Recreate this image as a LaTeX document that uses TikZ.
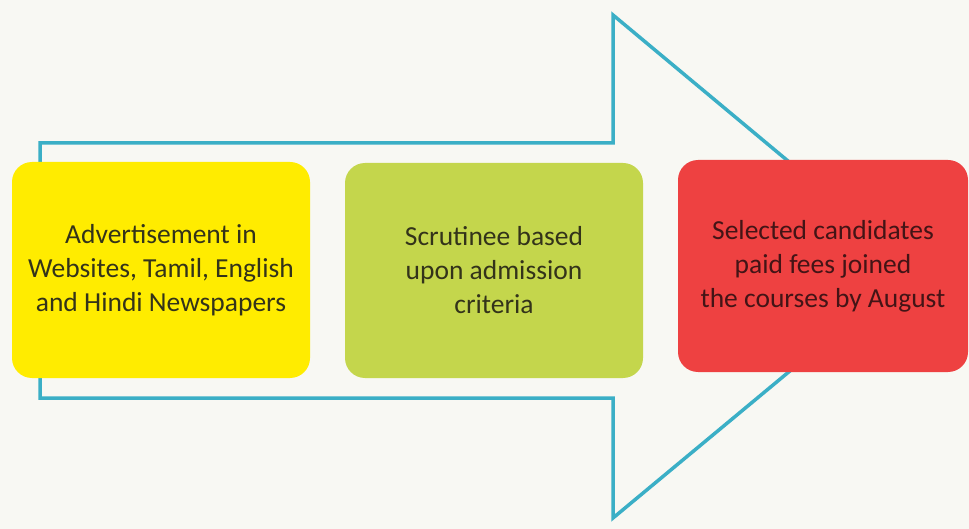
\documentclass[tikz,border=0pt]{standalone}
\usepackage{fontspec}
\setmainfont{Carlito}
\definecolor{bgc}{HTML}{F8F8F3}
\definecolor{teal}{HTML}{3BAFC6}
\definecolor{yel}{HTML}{FFEC00}
\definecolor{grn}{HTML}{C4D64C}
\definecolor{rd}{HTML}{EE4141}
\definecolor{txtdark}{HTML}{33331A}
\definecolor{txtred}{HTML}{431416}
\tikzset{
  stagebox/.style={rounded corners=20pt, minimum width=298pt, minimum height=216pt,
    inner sep=0pt, align=center, font=\fontsize{27.5}{34}\selectfont, text=txtdark},
  flowarrow/.style={draw=teal, line width=3.5pt, line join=miter}
}
\begin{document}
\begin{tikzpicture}[x=1pt,y=-1pt]
\useasboundingbox (0,0) rectangle (969,529);
\fill[bgc] (0,0) rectangle (969,529);
\draw[flowarrow] (40,143) -- (613,143) -- (613,15) -- (915,267) -- (613,518) -- (613,398) -- (40,398) -- cycle;
\node[stagebox, fill=yel] (adv) at (161,270) {Advertisement in\\Websites, Tamil, English\\and Hindi Newspapers};
\node[stagebox, fill=grn, minimum height=215pt] (scr) at (494,270.5) {Scrutinee based\\upon admission\\criteria};
\node[stagebox, fill=rd, minimum width=290pt, minimum height=212pt, text=txtred] (sel) at (823,266) {Selected candidates\\paid fees joined\\the courses by August};
\end{tikzpicture}
\end{document}
